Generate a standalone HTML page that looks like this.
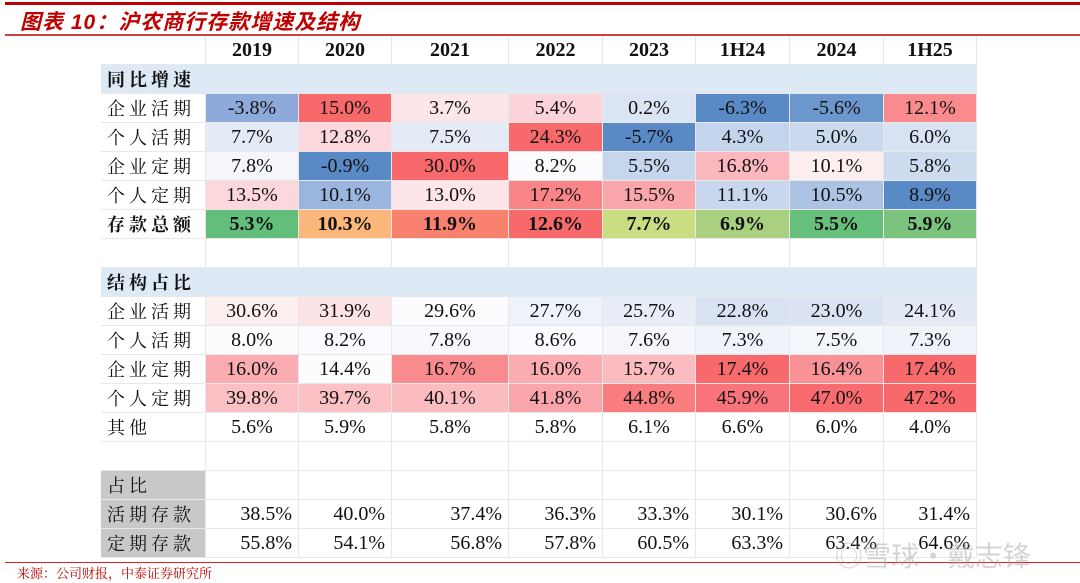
<!DOCTYPE html>
<html><head><meta charset="utf-8">
<style>
body{margin:0;width:1080px;height:583px;background:#fff;position:relative;overflow:hidden;font-family:"Liberation Serif","Noto Serif CJK SC",serif;}
.abs{position:absolute;}
.cell{position:absolute;box-sizing:border-box;border-right:1px solid #e8e8e8;border-bottom:1px solid #e8e8e8;font-size:20px;line-height:29px;color:#111;text-align:center;white-space:nowrap;}
.lbl{text-align:left;padding-left:6px;letter-spacing:4px;font-family:"Noto Serif CJK SC","Liberation Serif",serif;font-size:18px;}
.b{font-weight:bold;}
</style></head><body>
<div class="abs" style="left:5px;top:2px;width:1075px;height:3px;background:#c00000"></div>
<div class="abs" style="left:20px;top:6px;font-size:21px;font-weight:bold;font-style:italic;color:#c00000;letter-spacing:1px;font-family:'Liberation Sans','Noto Sans CJK SC',sans-serif;">图表 10：沪农商行存款增速及结构</div>
<div class="abs" style="left:5px;top:34px;width:1075px;height:2px;background:#d04040"></div>
<div id="tbl"></div>
<div class="abs" style="left:5px;top:562px;width:1075px;height:1px;background:#e02020"></div>
<div class="abs" style="left:17px;top:563px;font-size:13px;color:#c00000;font-family:'Noto Serif CJK SC',serif;">来源：公司财报，中泰证券研究所</div>
<div class="abs" style="left:835px;top:535px;font-size:28px;color:rgba(160,160,160,0.45);font-family:'Noto Sans CJK SC',sans-serif;">◎雪球·戴志锋</div>
<script>
const periods=["2019","2020","2021","2022","2023","1H24","2024","1H25"];
const growthLabels=["企业活期","个人活期","企业定期","个人定期","存款总额"];
const growthValues=[
["-3.8%","15.0%","3.7%","5.4%","0.2%","-6.3%","-5.6%","12.1%"],
["7.7%","12.8%","7.5%","24.3%","-5.7%","4.3%","5.0%","6.0%"],
["7.8%","-0.9%","30.0%","8.2%","5.5%","16.8%","10.1%","5.8%"],
["13.5%","10.1%","13.0%","17.2%","15.5%","11.1%","10.5%","8.9%"],
["5.3%","10.3%","11.9%","12.6%","7.7%","6.9%","5.5%","5.9%"]];
const growthColors=[
["#8eaadb","#f8696b","#fde6e9","#fcd3d8","#dbe4f3","#5a8ac6","#6c97cd","#f98b8e"],
["#e3ebf6","#fcd7dc","#e4ebf6","#f8696b","#5a8ac6","#c4d4ec","#cbd9ee","#d7e2f2"],
["#f4f6fb","#5a8ac6","#f8696b","#fcfcff","#c6d6ec","#fab8be","#fdeef0","#cddbef"],
["#fcd8dc","#9ab5de","#fde5e8","#f98589","#fba6ab","#c8d7ed","#adc3e4","#5a8ac6"],
["#63be7b","#fcb77a","#f8816e","#f8696b","#cbdd82","#a8d080","#67bf7c","#7cc47d"]];
const structLabels=["企业活期","个人活期","企业定期","个人定期","其他"];
const structValues=[
["30.6%","31.9%","29.6%","27.7%","25.7%","22.8%","23.0%","24.1%"],
["8.0%","8.2%","7.8%","8.6%","7.6%","7.3%","7.5%","7.3%"],
["16.0%","14.4%","16.7%","16.0%","15.7%","17.4%","16.4%","17.4%"],
["39.8%","39.7%","40.1%","41.8%","44.8%","45.9%","47.0%","47.2%"],
["5.6%","5.9%","5.8%","5.8%","6.1%","6.6%","6.0%","4.0%"]];
const structColors=[
["#fdeef0","#fce3e6","#fcfcff","#eef2f9","#e8edf7","#d8e2f2","#dae3f2","#e3eaf5"],
["#fcfcff","#fafbfe","#f8f9fd","#fafbfe","#f6f7fc","#eff3fa","#f3f6fb","#eff3fa"],
["#faacb1","#fcfcff","#f98a8d","#faacb1","#fbbbbf","#f8696b","#f99296","#f8696b"],
["#fbc0c4","#fbc1c5","#fbbcc0","#faa5aa","#f97c7f","#f8747a","#f86b6e","#f8696b"],
["#fff","#fff","#fff","#fff","#fff","#fff","#fff","#fff"]];
const shareLabels=["活期存款","定期存款"];
const shareValues=[
["38.5%","40.0%","37.4%","36.3%","33.3%","30.1%","30.6%","31.4%"],
["55.8%","54.1%","56.8%","57.8%","60.5%","63.3%","63.4%","64.6%"]];

const colX=[101,206,299,392,509,603,696,790,884,977];
const rowH=29, top0=36;
const T=document.getElementById('tbl');
function cell(r,c,text,cls,bg,name,extra){
  const d=document.createElement('div');
  d.className='cell '+(cls||'');
  d.style.left=colX[c]+'px';d.style.top=(top0+r*rowH)+'px';
  d.style.width=(colX[c+1]-colX[c])+'px';d.style.height=rowH+'px';
  if(bg)d.style.background=bg;
  if(extra)Object.assign(d.style,extra);
  d.textContent=text;
  
  
  T.appendChild(d);return d;
}
function band(r,text,name){
  const d=document.createElement('div');
  d.className='cell lbl b';
  d.style.left=colX[0]+'px';d.style.top=(top0+r*rowH)+'px';
  d.style.width=(colX[9]-colX[0])+'px';d.style.height=rowH+'px';
  d.style.background='#dde9f5';
  d.textContent=text;
  
  
  T.appendChild(d);
}
cell(0,0,'','',null,'header-corner');
periods.forEach((p,i)=>cell(0,i+1,p,'b',null,'header-'+p));
band(1,'同比增速','growth-section-header');
growthLabels.forEach((l,r)=>{
  const bold=r===4?'b':'';
  cell(2+r,0,l,'lbl '+bold,null,'growth-row-label');
  growthValues[r].forEach((v,i)=>cell(2+r,i+1,v,bold,growthColors[r][i],'growth-cell'));
});
for(let c=0;c<9;c++)cell(7,c,'','',null,'blank-cell');
band(8,'结构占比','structure-section-header');
structLabels.forEach((l,r)=>{
  cell(9+r,0,l,'lbl',null,'structure-row-label');
  structValues[r].forEach((v,i)=>cell(9+r,i+1,v,'',structColors[r][i],'structure-cell'));
});
for(let c=0;c<9;c++)cell(14,c,'','',null,'blank-cell');
cell(15,0,'占比','lbl','#c8c8c8','share-label');
for(let c=1;c<9;c++)cell(15,c,'','',null,'blank-cell');
shareLabels.forEach((l,r)=>{
  cell(16+r,0,l,'lbl','#c8c8c8','share-row-label');
  shareValues[r].forEach((v,i)=>cell(16+r,i+1,v,'',null,'share-cell',{textAlign:'right',paddingRight:'6px'}));
});
</script>
</body></html>
